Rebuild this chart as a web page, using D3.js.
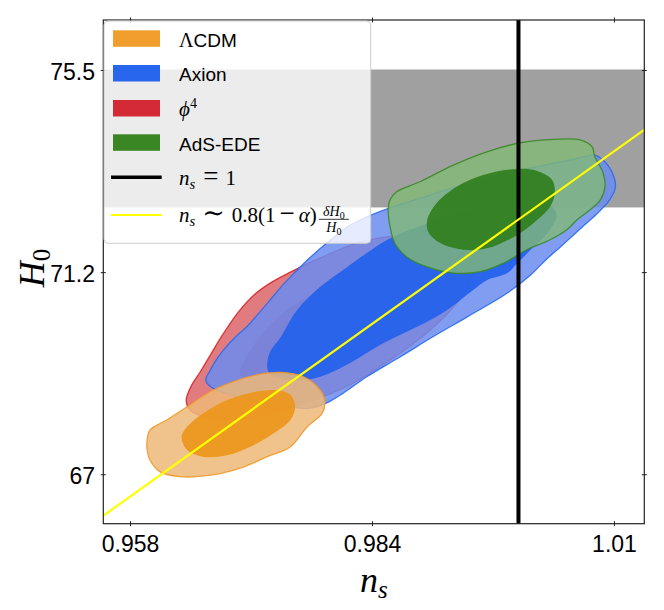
<!DOCTYPE html>
<html><head><meta charset="utf-8">
<script src="https://cdn.jsdelivr.net/npm/d3@7"></script>
<style>body{margin:0;background:#fff}svg{display:block}</style>
</head><body>
<svg id="chart" width="664" height="610"></svg>
<script>
// ---------------- data ----------------
const nsTicks = [0.95826, 0.98426, 1.01026];
const nsTickLabels = ["0.958", "0.984", "1.01"];
const h0Ticks = [67, 71.25, 75.5];
const h0TickLabels = ["67", "71.2", "75.5"];
const nsDomain = [0.95539, 1.01352];
const h0Domain = [65.9605, 76.551];
const h0Band = [72.61, 75.51];          // local H0 measurement band
const nsUnity = 1.0;                      // n_s = 1 line
const scalingLine = [[0.9554, 66.13], [1.0135, 74.24]];

const seriesNames = ["ΛCDM", "Axion", "ϕ4", "AdS-EDE"];
const lineNames = ["n_s = 1", "n_s ∼ 0.8(1 − α) δH0/H0"];

// [n_s, H0] contour vertices (68% and 95%)
const phi4_95 = [[0.9643,68.56],[0.9649,68.88],[0.9658,69.15],[0.9669,69.51],[0.9682,69.93],[0.9699,70.41],[0.9717,70.79],[0.9735,71.04],[0.9755,71.25],[0.9787,71.55],[0.9830,71.88],[0.9873,72.01],[0.9916,71.93],[0.9943,71.55],[0.9948,71.08],[0.9932,70.56],[0.9905,70.03],[0.9862,69.40],[0.9819,68.88],[0.9765,68.46],[0.9712,68.18],[0.9669,68.18],[0.9647,68.35]];
const phi4_68 = [[0.9701,69.09],[0.9712,69.61],[0.9738,70.24],[0.9776,70.77],[0.9819,71.19],[0.9873,71.46],[0.9916,71.40],[0.9932,70.98],[0.9916,70.45],[0.9873,69.93],[0.9819,69.40],[0.9765,69.02],[0.9722,68.88]];
const axion95 = [[0.9664,68.98],[0.9669,69.19],[0.9675,69.40],[0.9683,69.61],[0.9695,69.87],[0.9708,70.10],[0.9722,70.41],[0.9733,70.66],[0.9744,70.92],[0.9755,71.15],[0.9773,71.50],[0.9794,71.86],[0.9816,72.20],[0.9837,72.41],[0.9862,72.60],[0.9905,72.87],[0.9959,73.19],[1.0013,73.44],[1.0056,73.61],[1.0082,73.71],[1.0088,73.65],[1.0096,73.50],[1.0103,73.23],[1.0104,73.02],[1.0098,72.77],[1.0086,72.51],[1.0072,72.26],[1.0058,72.01],[1.0045,71.78],[1.0029,71.50],[1.0013,71.19],[0.9988,70.81],[0.9945,70.31],[0.9908,69.89],[0.9873,69.47],[0.9837,69.05],[0.9812,68.71],[0.9794,68.50],[0.9776,68.39],[0.9744,68.44],[0.9712,68.56],[0.9685,68.71],[0.9670,68.83]];
const axion68 = [[0.9730,69.26],[0.9733,69.57],[0.9744,69.87],[0.9762,70.45],[0.9787,70.94],[0.9816,71.36],[0.9837,71.65],[0.9859,71.93],[0.9894,72.22],[0.9937,72.49],[0.9980,72.70],[1.0013,72.77],[1.0034,72.66],[1.0041,72.45],[1.0032,72.09],[1.0013,71.72],[0.9999,71.44],[0.9988,71.23],[0.9966,71.08],[0.9951,70.87],[0.9923,70.45],[0.9891,70.10],[0.9855,69.76],[0.9819,69.34],[0.9787,69.05],[0.9765,68.98],[0.9744,69.02],[0.9733,69.11]];
const lcdm95 = [[0.9601,67.72],[0.9604,67.93],[0.9622,68.14],[0.9644,68.42],[0.9669,68.74],[0.9694,68.95],[0.9719,69.09],[0.9744,69.14],[0.9769,69.05],[0.9787,68.77],[0.9792,68.53],[0.9789,68.28],[0.9773,68.00],[0.9755,67.58],[0.9730,67.37],[0.9701,67.13],[0.9669,66.98],[0.9636,66.95],[0.9615,67.05],[0.9604,67.30],[0.9601,67.51]];
const lcdm68 = [[0.9638,67.79],[0.9644,68.00],[0.9661,68.28],[0.9687,68.56],[0.9712,68.71],[0.9737,68.77],[0.9755,68.67],[0.9760,68.42],[0.9755,68.14],[0.9737,67.86],[0.9712,67.58],[0.9687,67.40],[0.9661,67.37],[0.9644,67.51]];
const ade95 = [[0.9862,72.77],[0.9869,72.94],[0.9894,73.15],[0.9930,73.50],[0.9966,73.78],[1.0002,73.97],[1.0038,74.04],[1.0066,74.03],[1.0079,73.89],[1.0082,73.68],[1.0091,73.33],[1.0093,73.05],[1.0088,72.77],[1.0077,72.56],[1.0063,72.35],[1.0052,72.14],[1.0034,71.93],[1.0009,71.72],[0.9984,71.44],[0.9959,71.26],[0.9930,71.23],[0.9902,71.36],[0.9880,71.57],[0.9867,71.86],[0.9862,72.21],[0.9860,72.56]];
const ade68 = [[0.9902,72.35],[0.9912,72.70],[0.9934,73.05],[0.9962,73.29],[0.9991,73.41],[1.0016,73.40],[1.0036,73.19],[1.0039,72.91],[1.0034,72.63],[1.0016,72.28],[0.9995,71.99],[0.9966,71.75],[0.9941,71.72],[0.9916,71.86],[0.9903,72.10]];

// ---------------- drawing ----------------
const svg = d3.select("#chart");
const M = {l:103.3, r:644.3, t:20, b:523.7};
const x = d3.scaleLinear().domain(nsDomain).range([M.l, M.r]);
const y = d3.scaleLinear().domain(h0Domain).range([M.b, M.t]);

svg.append("defs").append("clipPath").attr("id","clip")
  .append("rect").attr("x",M.l).attr("y",M.t).attr("width",M.r-M.l).attr("height",M.b-M.t);

const plot = svg.append("g").attr("clip-path","url(#clip)");

plot.append("rect")
  .attr("x", x(nsDomain[0])).attr("width", x(nsDomain[1]) - x(nsDomain[0]))
  .attr("y", y(h0Band[1])).attr("height", y(h0Band[0]) - y(h0Band[1]))
  .attr("fill", "#a0a0a0");

const contourLine = d3.line().x(d=>x(d[0])).y(d=>y(d[1])).curve(d3.curveCatmullRomClosed.alpha(0.5));

const layers = [
  {d:phi4_95, fill:"#e07c80", op:1.0, stroke:"#d62728"},
  {d:phi4_68, fill:"#d42a36", op:0.55, stroke:"none"},
  {d:axion95, fill:"#6a8cf0", op:0.85, stroke:"#2a6af0"},
  {d:axion68, fill:"#2060ec", op:0.9, stroke:"none"},
  {d:lcdm95, fill:"#eeb978", op:0.85, stroke:"#f09a28"},
  {d:lcdm68, fill:"#ec961a", op:0.9, stroke:"none"},
  {d:ade95, fill:"#82b976", op:0.8, stroke:"#3a8a28"},
  {d:ade68, fill:"#2f7d1c", op:0.9, stroke:"none"}
];
plot.selectAll("path.contour").data(layers).join("path")
  .attr("class","contour")
  .attr("d", l=>contourLine(l.d))
  .attr("fill", l=>l.fill).attr("fill-opacity", l=>l.op)
  .attr("stroke", l=>l.stroke).attr("stroke-width", 1.3).attr("stroke-opacity", 0.9);

plot.append("line")
  .attr("x1", x(nsUnity)).attr("x2", x(nsUnity))
  .attr("y1", y(h0Domain[0])).attr("y2", y(h0Domain[1]))
  .attr("stroke", "#000").attr("stroke-width", 4);

plot.append("path")
  .attr("d", d3.line().x(d=>x(d[0])).y(d=>y(d[1]))(scalingLine))
  .attr("stroke", "#ffff00").attr("stroke-width", 2.2).attr("fill","none");

// frame
svg.append("rect").attr("x",M.l).attr("y",M.t).attr("width",M.r-M.l).attr("height",M.b-M.t)
  .attr("fill","none").attr("stroke","#222").attr("stroke-width",1.2);

// axes
const tickFont = "'Liberation Sans', Arial, sans-serif";
const ax = svg.append("g").attr("transform",`translate(0,${M.b-2.5})`)
  .call(d3.axisBottom(x).tickValues(nsTicks).tickFormat((d,i)=>nsTickLabels[i]).tickSize(5).tickPadding(0));
ax.select(".domain").remove();
ax.selectAll("text").attr("dy",null).attr("y", 551.7-(M.b-2.5))
  .style("font-family",tickFont).style("font-size","23px").attr("fill","#000");
const axTop = svg.append("g").attr("transform",`translate(0,${M.t+2.5})`)
  .call(d3.axisTop(x).tickValues(nsTicks).tickFormat("").tickSize(5));
axTop.select(".domain").remove();

const ay = svg.append("g").attr("transform",`translate(${M.l+2.5},0)`)
  .call(d3.axisLeft(y).tickValues(h0Ticks).tickFormat((d,i)=>h0TickLabels[i]).tickSize(5).tickPadding(5.8));
ay.select(".domain").remove();
ay.selectAll("text").attr("dy","0.42em")
  .style("font-family",tickFont).style("font-size","23px").attr("fill","#000");
const ayR = svg.append("g").attr("transform",`translate(${M.r-2.5},0)`)
  .call(d3.axisRight(y).tickValues(h0Ticks).tickFormat("").tickSize(5));
ayR.select(".domain").remove();
svg.selectAll(".tick line").attr("stroke","#222").attr("stroke-width",1);

// axis labels
const serif = "'Liberation Serif', 'DejaVu Serif', serif";
const xl = svg.append("text").attr("x",(M.l+M.r)/2).attr("y",592).attr("text-anchor","middle")
  .style("font-family",serif).style("font-size","36px");
xl.append("tspan").attr("font-style","italic").text("n");
xl.append("tspan").attr("font-style","italic").attr("font-size","25px").attr("dy",6).text("s");

const yl = svg.append("text").attr("transform",`translate(44,268) rotate(-90)`)
  .attr("text-anchor","middle").style("font-family",serif).style("font-size","36px");
yl.append("tspan").attr("font-style","italic").text("H");
yl.append("tspan").attr("font-size","25px").attr("dy",6).text("0");

// legend
const lg = svg.append("g");
lg.append("rect").attr("x",104).attr("y",21).attr("width",266.7).attr("height",222.3).attr("rx",4)
  .attr("fill","#fff").attr("fill-opacity",0.8).attr("stroke","#cccccc").attr("stroke-width",1);
const patchColors = ["#f19e2e","#2866ee","#d42a36","#3a8624"];
const patchY = [30.3, 65, 100, 134.3];
const sans = "'Liberation Sans', Arial, sans-serif";
seriesNames.forEach((n,i)=>{
  lg.append("rect").attr("x",113).attr("y",patchY[i]).attr("width",47).attr("height",16.5).attr("fill",patchColors[i]);
  const t = lg.append("text").attr("x",179).attr("y",patchY[i]+16.3)
    .style("font-family",sans).style("font-size","19px").attr("fill","#000");
  if (n === "ΛCDM") {
    t.append("tspan").style("font-family",serif).style("font-size","20px").text("Λ");
    t.append("tspan").text("CDM");
  } else if (n === "ϕ4") {
    t.append("tspan").style("font-family",serif).style("font-size","21px").attr("font-style","italic").text("ϕ");
    t.append("tspan").style("font-family",serif).style("font-size","14px").attr("dy",-8).text("4");
  } else {
    t.text(n);
  }
});
// line entries
lg.append("line").attr("x1",111).attr("x2",161.7).attr("y1",177.3).attr("y2",177.3).attr("stroke","#000").attr("stroke-width",3.5);
lg.append("line").attr("x1",111).attr("x2",161.7).attr("y1",215).attr("y2",215).attr("stroke","#ffff00").attr("stroke-width",2.2);

function mathNs(t, size){
  t.append("tspan").attr("font-style","italic").text("n");
  t.append("tspan").attr("font-style","italic").attr("font-size",(size*0.7)+"px").attr("dy",4).text("s");
}
const t5 = lg.append("text").attr("x",179).attr("y",185).style("font-family",serif).style("font-size","21px");
mathNs(t5,21);
t5.append("tspan").attr("dy",-4).attr("dx",8).attr("font-size","27px").text("=");
t5.append("tspan").attr("dx",7).text("1");

const t6 = lg.append("text").attr("x",179).attr("y",221.7).style("font-family",serif).style("font-size","21px");
mathNs(t6,21);
t6.append("tspan").attr("dy",-4).attr("dx",7).attr("font-size","27px").text("∼");
t6.append("tspan").attr("dx",7).text("0.8(1");
t6.append("tspan").attr("dx",4).attr("font-size","27px").text("−");
t6.append("tspan").attr("dx",4).attr("font-style","italic").text("α");
t6.append("tspan").text(")");
const bb = t6.node().getBBox();
const fx = bb.x + bb.width + 2, fw = 30, fc = fx + fw/2;
const num = lg.append("text").attr("x",fc).attr("y",216).attr("text-anchor","middle").style("font-family",serif).style("font-size","14px");
num.append("tspan").attr("font-style","italic").text("δH");
num.append("tspan").attr("font-size","10px").attr("dy",2.5).text("0");
lg.append("line").attr("x1",fx).attr("x2",fx+fw).attr("y1",219.3).attr("y2",219.3).attr("stroke","#000").attr("stroke-width",0.8);
const den = lg.append("text").attr("x",fc).attr("y",232).attr("text-anchor","middle").style("font-family",serif).style("font-size","14px");
den.append("tspan").attr("font-style","italic").text("H");
den.append("tspan").attr("font-size","10px").attr("dy",2.5).text("0");
</script>
</body></html>
